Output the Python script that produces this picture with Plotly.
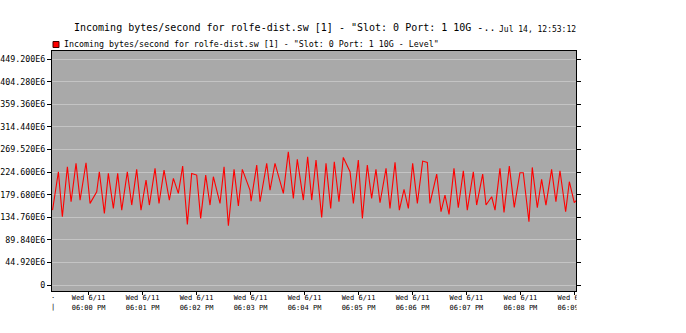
import plotly.graph_objects as go
import pandas as pd

# ---- data ----
seconds_after_6pm = [
    -40, -33.5, -29.1, -23.5, -19.4, -13.9, -9.4, -2.8, 1.7, 9.1, 12.0, 17.6, 22.0, 27.6, 32.4, 36.9,
    43.1, 48.0, 53.5, 58.3, 63.9, 67.6, 73.9, 78.3, 83.9, 89.8, 94.3, 99.8, 104.6, 109.8, 114.6, 120.2,
    124.6, 130.2, 135.0, 138.7, 146.1, 150.6, 155.4, 161.7, 166.5, 170.9, 179.4, 180.6, 186.9, 190.6,
    198.0, 201.7, 207.2, 216.5, 222.0, 227.6, 232.0, 238.7, 243.5, 248.0, 252.8, 259.1, 263.9, 269.1,
    273.1, 278.3, 283.1, 290.6, 294.3, 299.8, 304.3, 309.8, 314.6, 319.4, 323.9, 330.6, 335.0, 340.6,
    345.4, 350.6, 355.4, 360.2, 365.4, 371.3, 376.5, 379.4, 386.9, 391.7, 396.1, 400.6, 406.1, 410.9,
    416.5, 420.9, 427.6, 431.3, 438.0, 441.7, 448.0, 451.7, 457.2, 461.7, 467.6, 473.1, 479.4, 483.1,
    489.4, 493.1, 498.7, 503.5, 508.3, 514.6, 519.4, 523.9, 530.2, 534.3, 539.8, 541.7,
]
incoming_e6 = [
    148.9, 225.1, 135.7, 235.0, 165.5, 241.7, 168.8, 243.0, 162.2, 185.4, 225.1, 142.3, 221.8, 152.2, 221.8, 148.9,
    225.1, 158.9, 229.8, 148.9, 208.6, 158.9, 231.8, 162.2, 228.4, 168.8, 211.9, 182.0, 236.4, 120.4, 221.8, 218.5,
    132.4, 218.5, 158.9, 215.2, 162.2, 235.0, 117.8, 229.8, 156.9, 229.8, 188.7, 166.8, 238.4, 165.5,
    241.7, 188.7, 241.7, 182.0, 264.9, 172.1, 249.6, 168.8, 254.9, 168.8, 248.3, 134.4, 241.7, 152.2,
    245.0, 165.5, 253.6, 225.1, 162.2, 248.3, 132.4, 238.4, 172.1, 229.8, 163.5, 231.8, 152.2, 243.7,
    148.9, 190.0, 152.2, 241.7, 162.2, 246.3, 243.7, 162.2, 220.5, 145.6, 178.8, 140.3, 231.8, 153.6,
    227.1, 148.9, 225.1, 158.9, 220.5, 158.9, 175.4, 148.9, 231.8, 144.3, 236.4, 154.2, 223.1, 223.1,
    125.7, 233.7, 153.6, 209.9, 158.9, 229.8, 165.5, 227.1, 145.6, 205.3, 163.5, 167.5,
]
y_tick_values_e6 = [0, 44.92, 89.84, 134.76, 179.68, 224.60, 269.52, 314.44, 359.36, 404.28, 449.20]
y_tick_labels = ["0", "44.920E6", "89.840E6", "134.760E6", "179.680E6", "224.600E6",
                 "269.520E6", "314.440E6", "359.360E6", "404.280E6", "449.200E6"]
x_tick_minutes = ["18:00", "18:01", "18:02", "18:03", "18:04", "18:05", "18:06", "18:07", "18:08", "18:09"]
x_tick_labels = ["Wed 6/11<br>06:00 PM", "Wed 6/11<br>06:01 PM", "Wed 6/11<br>06:02 PM",
                 "Wed 6/11<br>06:03 PM", "Wed 6/11<br>06:04 PM", "Wed 6/11<br>06:05 PM",
                 "Wed 6/11<br>06:06 PM", "Wed 6/11<br>06:07 PM", "Wed 6/11<br>06:08 PM",
                 "Wed 6/11<br>06:09 PM"]
title_text = 'Incoming bytes/second for rolfe-dist.sw [1] - "Slot: 0 Port: 1 10G -..'
date_text = "Jul 14, 12:53:12"
legend_text = 'Incoming bytes/second for rolfe-dist.sw [1] - "Slot: 0 Port: 1 10G - Level"'

base = pd.Timestamp("2014-06-11 18:00:00")
times = [base + pd.Timedelta(seconds=s) for s in seconds_after_6pm]
values = [v * 1e6 for v in incoming_e6]
tickvals_x = [pd.Timestamp("2014-06-11 " + m + ":00") for m in x_tick_minutes]
tickvals_y = [v * 1e6 for v in y_tick_values_e6]

MONO = "DejaVu Sans Mono"

fig = go.Figure()
fig.add_trace(go.Scatter(x=times, y=values, mode="lines",
                         line=dict(color="#FF0000", width=1.1), showlegend=False,
                         name=legend_text))

W, H = 686, 333
L, R, T, B = 52, 110, 51, 42
pw, ph = W - L - R, H - T - B

def px(xp):
    return (xp - L) / pw

def py(yp):
    return (H - B - yp) / ph

fig.update_layout(
    width=W, height=H, autosize=False,
    margin=dict(l=L, r=R, t=T, b=B, pad=0),
    paper_bgcolor="white", plot_bgcolor="#A9A9A9",
    font=dict(family=MONO, color="black"),
    showlegend=False,
    xaxis=dict(
        range=[base - pd.Timedelta(seconds=40.6), base + pd.Timedelta(seconds=541.7)],
        tickmode="array", tickvals=tickvals_x, ticktext=x_tick_labels,
        tickfont=dict(family=MONO, size=7, color="black"),
        ticks="outside", ticklen=3, tickcolor="black", tickwidth=1,
        ticklabelstandoff=-3,
        showgrid=False, zeroline=False, automargin=False,
        showline=True, linecolor="black", linewidth=1, mirror=True,
    ),
    yaxis=dict(
        range=[-11.93e6, 465.1e6],
        tickmode="array", tickvals=tickvals_y, ticktext=y_tick_labels,
        tickfont=dict(family=MONO, size=8.3, color="black"),
        ticks="outside", ticklen=4, tickcolor="black", tickwidth=1,
        showgrid=True, gridcolor="#C4C4C4", gridwidth=1, zeroline=False, automargin=False,
        showline=True, linecolor="black", linewidth=1, mirror="ticks",
    ),
)

# title and timestamp
fig.add_annotation(xref="paper", yref="paper", x=px(72), y=py(28), xanchor="left", yanchor="middle",
                   text=title_text, showarrow=False, font=dict(family=MONO, size=10, color="black"))
fig.add_annotation(xref="paper", yref="paper", x=px(497), y=py(29), xanchor="left", yanchor="middle",
                   text=date_text, showarrow=False, font=dict(family=MONO, size=8, color="black"))
# legend
fig.add_shape(type="rect", xref="paper", yref="paper", x0=px(53), x1=px(59), y0=py(47.5), y1=py(41.5),
              fillcolor="#FF0000", line=dict(color="#400000", width=1), layer="above")
fig.add_annotation(xref="paper", yref="paper", x=px(62), y=py(44), xanchor="left", yanchor="middle",
                   text=legend_text, showarrow=False, font=dict(family=MONO, size=8.3, color="black"))
# clipped leftmost label remnants
fig.add_annotation(xref="paper", yref="paper", x=px(52.5), y=py(296), xanchor="center", yanchor="middle",
                   text=".", showarrow=False, font=dict(family=MONO, size=7, color="black"))
fig.add_annotation(xref="paper", yref="paper", x=px(52.5), y=py(307), xanchor="center", yanchor="middle",
                   text="|", showarrow=False, font=dict(family=MONO, size=7, color="black"))
# clip the last x label at the right edge of the chart
fig.add_shape(type="rect", xref="paper", yref="paper", x0=px(576.6), x1=px(686), y0=py(293.5), y1=py(333),
              fillcolor="white", line=dict(width=0), layer="above")

fig.write_html("out.html", config={"displayModeBar": False},
               post_script="document.body.style.margin='0';")
